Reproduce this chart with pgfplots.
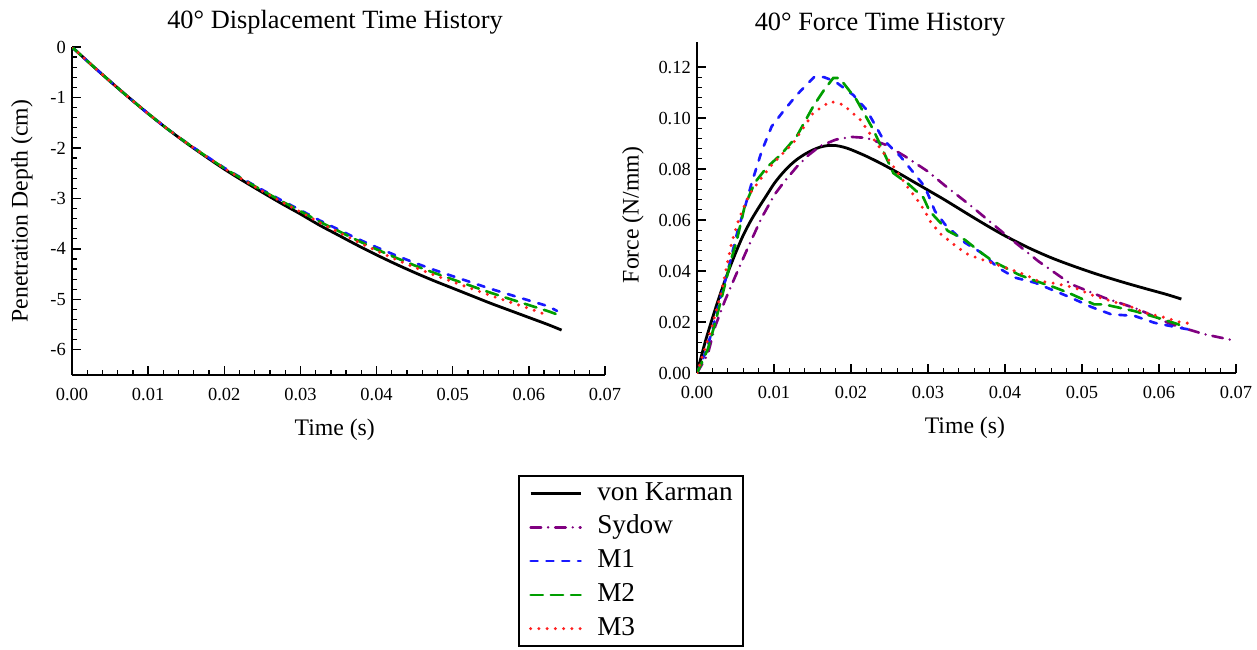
\documentclass[border=0pt]{standalone}
\usepackage{fontspec}
\setmainfont{Liberation Serif}
\usepackage{pgfplots}
\pgfplotsset{compat=1.18}

\definecolor{mpurple}{rgb}{0.5,0,0.5}
\definecolor{mblue}{rgb}{0.1,0.1,1}
\definecolor{mgreen}{rgb}{0,0.62,0}
\definecolor{mred}{rgb}{1,0.12,0.12}

\pgfplotsset{
  mstyle/.style={
    scale only axis,
    axis lines=left,
    axis line style={-, line width=1pt},
    tick align=inside,
    major tick length=5pt,
    minor tick length=2.8pt,
    major tick style={line width=0.8pt, black},
    minor tick style={line width=0.7pt, black},
    xmin=0, xmax=0.07,
    xtick={0,0.01,0.02,0.03,0.04,0.05,0.06,0.07},
    minor x tick num=4,
    minor y tick num=4,
    scaled x ticks=false, scaled y ticks=false,
    x tick label style={yshift=-4pt, /pgf/number format/.cd, fixed, fixed zerofill, precision=2},
    tick label style={font=\fontsize{10.5}{12}\selectfont},
    /pgf/number format/assume math mode=true,
    label style={font=\fontsize{13.5}{16}\selectfont},
  },
  vk/.style={black, line width=1.6pt},
  sy/.style={mpurple, line width=1.5pt, line cap=round, dash pattern=on 6pt off 4pt on 0pt off 4pt},
  mone/.style={mblue, line width=1.5pt, line cap=round, dash pattern=on 4pt off 5pt},
  mtwo/.style={mgreen, line width=1.5pt, line cap=round, dash pattern=on 7pt off 4.5pt},
  mthree/.style={mred, line width=1.9pt, line cap=round, dash pattern=on 0pt off 4.7pt},
}

\begin{document}
\begin{tikzpicture}
\useasboundingbox (0,0) rectangle (25.14cm,12.98cm);

% titles
\node[font=\fontsize{15}{18}\selectfont, anchor=center] at (6.70cm,12.54cm) {40° Displacement Time History};
\node[font=\fontsize{15}{18}\selectfont, anchor=center] at (17.60cm,12.48cm) {40° Force Time History};

% left: displacement
\begin{axis}[
  mstyle,
  at={(1.44cm,5.48cm)}, anchor=south west,
  width=10.66cm, height=6.56cm,
  ymin=-6.5, ymax=0,
  ytick={-6,-5,-4,-3,-2,-1,0},
  xlabel={Time (s)},
  xlabel style={at={(axis description cs:0.493,-0.168)}, anchor=center},
  ylabel={Penetration Depth (cm)},
  ylabel style={at={(axis description cs:-0.094,0.5)}, anchor=center},
]
\addplot[vk, smooth] coordinates {
(0,0)(0.0025,-0.345)(0.005,-0.68)(0.0075,-1.005)(0.01,-1.32)(0.0125,-1.62)
(0.015,-1.9)(0.0175,-2.165)(0.02,-2.42)(0.0225,-2.655)(0.025,-2.88)(0.0275,-3.1)
(0.03,-3.31)(0.0325,-3.53)(0.035,-3.73)(0.0375,-3.93)(0.04,-4.12)(0.0425,-4.30)
(0.045,-4.47)(0.0475,-4.63)(0.05,-4.78)(0.0525,-4.93)(0.055,-5.08)(0.0575,-5.22)
(0.06,-5.36)(0.0625,-5.50)(0.0643,-5.61)
};
\addplot[mone] coordinates {
(0,0)(0.0025,-0.345)(0.005,-0.68)(0.0075,-1.005)(0.01,-1.32)(0.0125,-1.62)
(0.015,-1.892)(0.0175,-2.149)(0.02,-2.395)(0.0225,-2.618)(0.025,-2.831)(0.0275,-3.037)
(0.03,-3.232)(0.0325,-3.435)(0.035,-3.617)(0.0375,-3.801)(0.04,-3.968)(0.0425,-4.128)
(0.045,-4.276)(0.0475,-4.414)(0.05,-4.541)(0.0525,-4.667)(0.055,-4.793)(0.0575,-4.908)
(0.06,-5.022)(0.0625,-5.135)(0.0637,-5.23)
};
\addplot[mtwo] coordinates {
(0,0)(0.0025,-0.345)(0.005,-0.68)(0.0075,-1.005)(0.01,-1.32)(0.0125,-1.62)
(0.015,-1.894)(0.0175,-2.154)(0.02,-2.402)(0.0225,-2.628)(0.025,-2.844)(0.0275,-3.054)
(0.03,-3.253)(0.0325,-3.461)(0.035,-3.648)(0.0375,-3.834)(0.04,-4.010)(0.0425,-4.174)
(0.045,-4.329)(0.0475,-4.473)(0.05,-4.606)(0.0525,-4.739)(0.055,-4.871)(0.0575,-4.993)
(0.06,-5.114)(0.0625,-5.234)(0.0643,-5.33)
};
\addplot[mthree] coordinates {
(0,0)(0.0025,-0.345)(0.005,-0.68)(0.0075,-1.005)(0.01,-1.32)(0.0125,-1.62)
(0.015,-1.896)(0.0175,-2.157)(0.02,-2.406)(0.0225,-2.636)(0.025,-2.854)(0.0275,-3.066)
(0.03,-3.268)(0.0325,-3.480)(0.035,-3.670)(0.0375,-3.860)(0.04,-4.039)(0.0425,-4.208)
(0.045,-4.367)(0.0475,-4.515)(0.05,-4.653)(0.0525,-4.790)(0.055,-4.927)(0.0575,-5.054)
(0.06,-5.180)(0.0627,-5.33)
};
\end{axis}

% right: force
\begin{axis}[
  mstyle,
  at={(13.94cm,5.52cm)}, anchor=south west,
  width=10.78cm, height=6.63cm,
  ymin=0, ymax=0.13,
  ytick={0,0.02,0.04,0.06,0.08,0.10,0.12},
  y tick label style={/pgf/number format/.cd, fixed, fixed zerofill, precision=2},
  xlabel={Time (s)},
  xlabel style={at={(axis description cs:0.497,-0.166)}, anchor=center},
  ylabel={Force (N/mm)},
  ylabel style={at={(axis description cs:-0.119,0.477)}, anchor=center},
  legend style={
    at={(axis description cs:-0.332,-0.308)}, anchor=north west,
    draw=black, line width=1pt,
    font=\fontsize{15.5}{18}\selectfont,
    inner xsep=0.2cm, inner ysep=2.8pt,
    nodes={inner sep=0pt, text height=11pt, text depth=3.5pt},
    row sep=4.7pt,
    cells={anchor=west},
    /tikz/every odd column/.append style={column sep=0.3cm},
  },
  legend image code/.code={\draw (0cm,0cm) -- (1cm,0cm);},
]
\addplot[vk, smooth] coordinates {
(0,0)(0.001,0.0115)(0.002,0.0215)(0.003,0.0308)(0.004,0.0393)(0.005,0.0470)
(0.006,0.0540)(0.007,0.0598)(0.008,0.0648)(0.009,0.0695)(0.010,0.0742)(0.011,0.0780)
(0.012,0.0812)(0.013,0.0838)(0.014,0.0858)(0.015,0.0874)(0.016,0.0886)(0.017,0.0892)
(0.018,0.0892)(0.019,0.0886)(0.020,0.0876)(0.022,0.0850)(0.024,0.0820)(0.026,0.0787)
(0.028,0.0752)(0.030,0.0717)(0.032,0.0682)(0.034,0.0645)(0.036,0.0608)(0.038,0.0572)
(0.040,0.0538)(0.043,0.0492)(0.046,0.0452)(0.049,0.0418)(0.052,0.0387)(0.055,0.0359)
(0.058,0.0333)(0.061,0.0308)(0.0629,0.0290)
};
\addlegendentry{von Karman}
\addplot[sy] coordinates {
(0,0)(0.0014,0.0073)(0.0023,0.0178)(0.0036,0.0282)(0.0049,0.0374)(0.0066,0.0491)
(0.0084,0.0609)(0.0101,0.0701)(0.0114,0.0753)(0.013,0.0810)(0.0145,0.0855)(0.016,0.0890)
(0.018,0.0915)(0.02,0.0926)(0.022,0.0922)(0.0245,0.0895)(0.027,0.0850)(0.03,0.0790)
(0.0322,0.0735)(0.0356,0.0655)(0.04,0.0544)(0.0443,0.0439)(0.0486,0.0348)(0.0529,0.0295)
(0.0573,0.0250)(0.0616,0.0191)(0.0659,0.0152)(0.07,0.0126)
};
\addlegendentry{Sydow}
\addplot[mone] coordinates {
(0,0)(0.001,0.0073)(0.0019,0.0158)(0.0027,0.0256)(0.004,0.0400)(0.0053,0.0560)
(0.0062,0.0648)(0.0071,0.0745)(0.0084,0.0870)(0.0097,0.0967)(0.0113,0.1030)(0.01295,0.1090)
(0.0142,0.1130)(0.0153,0.1163)(0.0165,0.1160)(0.0179,0.1144)(0.0203,0.1090)(0.022,0.1033)
(0.0242,0.0915)(0.0264,0.0850)(0.0296,0.0730)(0.0309,0.0635)(0.0322,0.0583)(0.0348,0.0511)
(0.0369,0.0472)(0.0391,0.0413)(0.0413,0.0374)(0.0439,0.0354)(0.0486,0.0295)(0.0512,0.0259)
(0.0538,0.0230)(0.0568,0.0224)(0.0594,0.0197)(0.0625,0.0178)(0.0646,0.0167)
};
\addlegendentry{M1}
\addplot[mtwo] coordinates {
(0,0)(0.0014,0.0093)(0.0023,0.0191)(0.0032,0.0295)(0.0045,0.0452)(0.0051,0.0511)
(0.0062,0.0655)(0.0075,0.0746)(0.0090,0.0804)(0.0110,0.0860)(0.01295,0.0928)(0.0151,0.1046)
(0.0165,0.1110)(0.0177,0.1157)(0.0185,0.1157)(0.0207,0.1072)(0.0229,0.0954)(0.0255,0.0784)
(0.0275,0.0740)(0.0294,0.0688)(0.0302,0.0635)(0.0326,0.0557)(0.0348,0.0522)(0.0369,0.0472)
(0.0384,0.0439)(0.0417,0.0387)(0.0434,0.0367)(0.0465,0.0335)(0.0482,0.0315)(0.0516,0.0269)
(0.0529,0.0269)(0.0568,0.0243)(0.0600,0.0215)(0.0625,0.0191)(0.0633,0.0178)
};
\addlegendentry{M2}
\addplot[mthree] coordinates {
(0,0)(0.001,0.0093)(0.0019,0.0178)(0.0032,0.0322)(0.0045,0.0511)(0.0055,0.0609)
(0.0068,0.0701)(0.0085,0.0770)(0.0099,0.0823)(0.0125,0.0902)(0.0151,0.1020)(0.0173,0.1065)
(0.019,0.1052)(0.0212,0.0993)(0.0233,0.0902)(0.0255,0.0810)(0.0274,0.0727)(0.0287,0.0675)
(0.0296,0.0635)(0.0304,0.0589)(0.0317,0.0544)(0.0339,0.0491)(0.0352,0.0465)(0.0367,0.0448)
(0.0382,0.0433)(0.0413,0.0400)(0.0428,0.0383)(0.0443,0.0361)(0.0460,0.0354)(0.0490,0.0335)
(0.0516,0.0302)(0.0538,0.0282)(0.0564,0.0259)(0.0581,0.0237)(0.0607,0.0218)(0.0625,0.0201)
(0.0642,0.0193)
};
\addlegendentry{M3}
\end{axis}
\end{tikzpicture}
\end{document}
